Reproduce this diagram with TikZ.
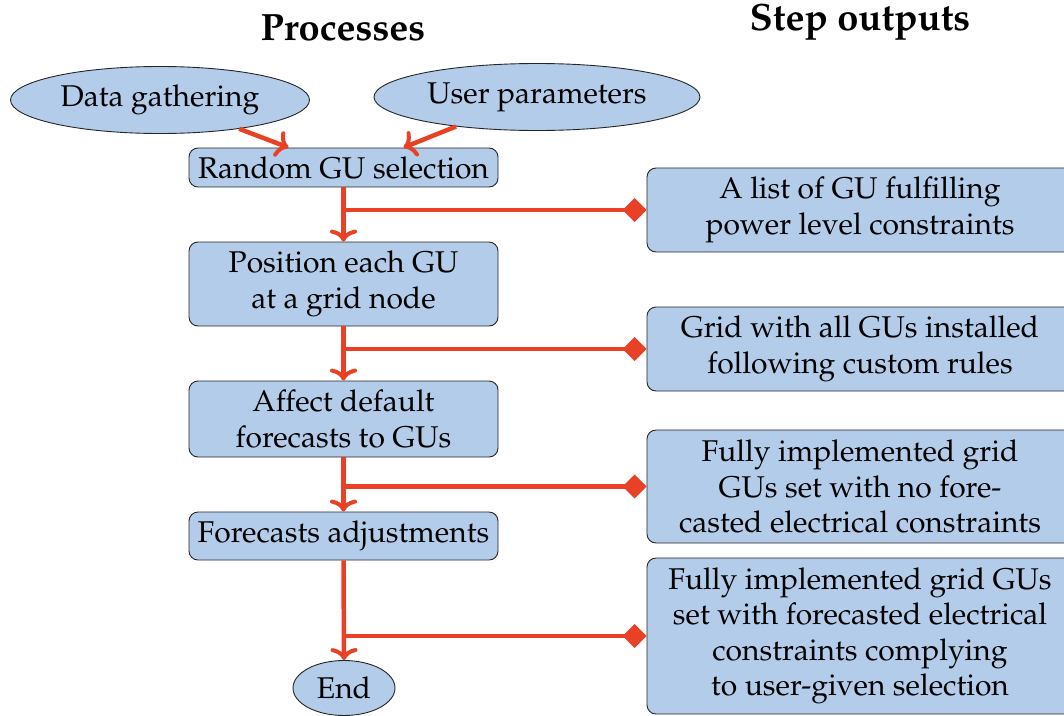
\documentclass[tikz,border=0pt]{standalone}
\IfFileExists{mathpazo.sty}{\usepackage[T1]{fontenc}\usepackage{mathpazo}}{%
  \IfFileExists{palatino.sty}{\usepackage[T1]{fontenc}\usepackage{palatino}}{%
    \usepackage{fontspec}\setmainfont{Liberation Serif}}}
\usetikzlibrary{shapes.geometric,arrows.meta}
\definecolor{boxfill}{RGB}{179,204,233}
\definecolor{flowred}{RGB}{232,65,38}
\tikzset{
  txt/.style={font=\fontsize{30}{35.3}\selectfont, align=center, inner sep=0pt},
  procbox/.style={txt, draw=black!85, line width=0.9pt, fill=boxfill, rounded corners=9pt, minimum width=309pt},
  outbox/.style={txt, draw=black!85, line width=0.9pt, fill=boxfill, rounded corners=9pt, minimum width=426pt},
  ellbox/.style={txt, ellipse, draw=black!85, line width=0.9pt, fill=boxfill},
  heading/.style={font=\fontsize{38}{44}\selectfont\bfseries, inner sep=0pt},
  flow/.style={draw=flowred, line width=4.5pt, -{Computer Modern Rightarrow[length=12pt,width=27pt,line width=4pt]}},
  branch/.style={draw=flowred, line width=4.5pt, -{Diamond[length=24pt,width=24pt]}},
}
\begin{document}
\begin{tikzpicture}[x=1pt,y=-1pt]
\useasboundingbox (0,0) rectangle (1064,715);
\node[heading] (h1) at (343,28) {Processes};
\node[heading] (h2) at (860,22) {Step outputs};

\node[ellbox, minimum width=299pt, minimum height=67pt] (dg) at (160,100) {Data gathering};
\node[ellbox, minimum width=326pt, minimum height=67pt] (up) at (537,97) {User parameters};

\node[procbox, minimum height=39pt] (rgu) at (343.5,167.5) {Random GU selection};
\node[procbox, minimum height=84pt] (pos) at (343.5,284) {Position each GU\\at a grid node};
\node[procbox, minimum height=76pt] (aff) at (343.5,419) {Affect default\\forecasts to GUs};
\node[procbox, minimum height=48pt] (fa) at (343.5,536) {Forecasts adjustments};
\node[ellbox, minimum width=102pt, minimum height=55pt] (end) at (344,688) {End};

\node[outbox, minimum height=84pt] (o1) at (860,210) {A list of GU fulfilling\\power level constraints};
\node[outbox, minimum height=84pt] (o2) at (860,349) {Grid with all GUs installed\\following custom rules};
\node[outbox, minimum height=113pt] (o3) at (860,486.5) {Fully implemented grid\\GUs set with no fore-\\casted electrical constraints};
\node[outbox, minimum height=156pt] (o4) at (860,636) {Fully implemented grid GUs\\set with forecasted electrical\\constraints complying\\to user-given selection};

\draw[flow] (dg.-20) -- ([xshift=-55pt]rgu.north);
\draw[flow] (up.200) -- ([xshift=60pt]rgu.north);

\draw[flow] (rgu.south) -- (pos.north);
\draw[flow] (pos.south) -- (aff.north);
\draw[flow] (aff.south) -- (fa.north);
\draw[flow] (fa.south) -- (end.north);

\draw[branch] (rgu.south |- o1.west) -- (o1.west);
\draw[branch] (pos.south |- o2.west) -- (o2.west);
\draw[branch] (aff.south |- o3.west) -- (o3.west);
\draw[branch] (fa.south |- o4.west) -- (o4.west);
\end{tikzpicture}
\end{document}
